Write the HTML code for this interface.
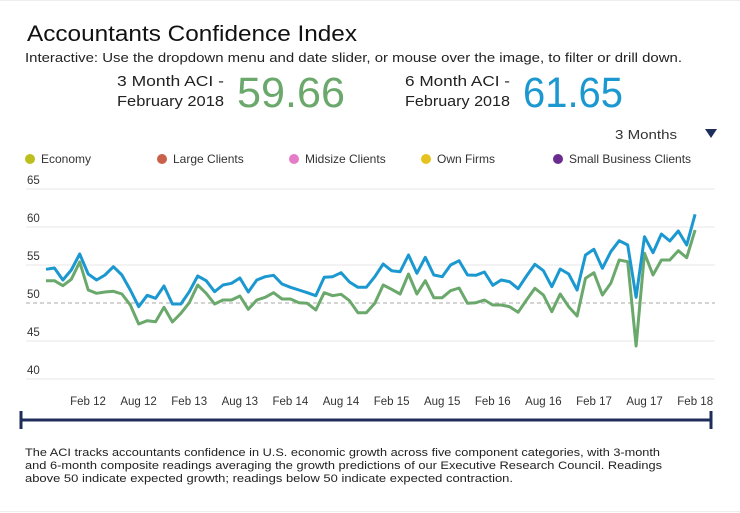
<!DOCTYPE html>
<html><head><meta charset="utf-8"><style>
html,body{margin:0;padding:0;background:#fff;}
svg{display:block;font-family:"Liberation Sans",sans-serif;}
</style></head><body>
<svg id="s" width="740" height="513" viewBox="0 0 740 513" xmlns="http://www.w3.org/2000/svg">
<rect width="740" height="513" fill="#fff"/>
<line x1="0" y1="0.5" x2="740" y2="0.5" stroke="#eee"/>
<text x="27" y="41" font-size="22" fill="#111" textLength="330" lengthAdjust="spacingAndGlyphs">Accountants Confidence Index</text>
<text x="25" y="62" font-size="12.5" fill="#222" textLength="657" lengthAdjust="spacingAndGlyphs">Interactive: Use the dropdown menu and date slider, or mouse over the image, to filter or drill down.</text>
<text x="117" y="86" font-size="15" fill="#222" textLength="107" lengthAdjust="spacingAndGlyphs">3 Month ACI -</text>
<text x="117" y="106" font-size="15" fill="#222" textLength="107" lengthAdjust="spacingAndGlyphs">February 2018</text>
<text x="237" y="107" font-size="43" fill="#6aa86b" textLength="108" lengthAdjust="spacingAndGlyphs">59.66</text>
<text x="405" y="86" font-size="15" fill="#222" textLength="105" lengthAdjust="spacingAndGlyphs">6 Month ACI -</text>
<text x="405" y="106" font-size="15" fill="#222" textLength="105" lengthAdjust="spacingAndGlyphs">February 2018</text>
<text x="523" y="107" font-size="43" fill="#1b98d0" textLength="100" lengthAdjust="spacingAndGlyphs">61.65</text>
<text x="615" y="139" font-size="13" fill="#333" textLength="62" lengthAdjust="spacingAndGlyphs">3 Months</text>
<polygon points="705,129 717,129 711,138" fill="#1f2d5a"/>
<g font-size="12" fill="#333">
<circle cx="30" cy="159" r="5" fill="#bcbf1d"/><text x="41" y="163">Economy</text>
<circle cx="162" cy="159" r="5" fill="#c9604a"/><text x="173" y="163">Large Clients</text>
<circle cx="294" cy="159" r="5" fill="#e57cc8"/><text x="305" y="163">Midsize Clients</text>
<circle cx="426" cy="159" r="5" fill="#e6c21c"/><text x="437" y="163">Own Firms</text>
<circle cx="558" cy="159" r="5" fill="#6a2d8f"/><text x="569" y="163">Small Business Clients</text>
</g>
<g stroke="#ececec" stroke-width="1.2">
<line x1="26" y1="189" x2="715" y2="189"/><line x1="26" y1="227" x2="715" y2="227"/>
<line x1="26" y1="265" x2="715" y2="265"/><line x1="26" y1="341" x2="715" y2="341"/>
<line x1="26" y1="379" x2="715" y2="379"/>
</g>
<line x1="26" y1="303" x2="715" y2="303" stroke="#bbb" stroke-dasharray="4,3" stroke-width="1.2"/>
<g font-size="11.5" fill="#333">
<text x="27" y="184">65</text><text x="27" y="222">60</text><text x="27" y="260">55</text>
<text x="27" y="298">50</text><text x="27" y="336">45</text><text x="27" y="374">40</text>
</g>
<g font-size="11.5" fill="#333" text-anchor="middle" id="xl"></g>
<polyline id="g" fill="none" stroke="#6aa86b" stroke-width="3" stroke-linejoin="round"/>
<polyline id="b" fill="none" stroke="#1b98d0" stroke-width="3" stroke-linejoin="round"/>
<line x1="21" y1="420" x2="711" y2="420" stroke="#1f2d5a" stroke-width="3"/>
<line x1="21" y1="411" x2="21" y2="429" stroke="#1f2d5a" stroke-width="3"/>
<line x1="711" y1="411" x2="711" y2="429" stroke="#1f2d5a" stroke-width="3"/>
<g font-size="11.3" fill="#222">
<text x="25" y="456" textLength="635" lengthAdjust="spacingAndGlyphs">The ACI tracks accountants confidence in U.S. economic growth across five component categories, with 3-month</text>
<text x="25" y="469" textLength="637" lengthAdjust="spacingAndGlyphs">and 6-month composite readings averaging the growth predictions of our Executive Research Council. Readings</text>
<text x="25" y="482" textLength="488" lengthAdjust="spacingAndGlyphs">above 50 indicate expected growth; readings below 50 indicate expected contraction.</text>
</g>
<line x1="0" y1="511.5" x2="740" y2="511.5" stroke="#eee"/>
</svg>
<script>
var B=[298,294,330,300,252,312,330,315,290,315,360,410,376,385,348,402,402,365,318,332,365,345,340,324,366,330,320,316,342,352,360,368,377,322,320,308,336,352,352,
320,282,302,305,255,310,262,315,320,285,272,315,316,306,346,330,335,356,318,283,302,350,297,312,360,255,238,295,245,212,225,382,200,248,192,213,183,225,133];
var G=[332,332,347,328,276,360,370,366,364,372,405,462,452,455,412,456,430,398,345,370,402,390,390,378,418,390,382,368,387,387,398,400,420,368,377,373,392,428,428,
400,345,358,372,312,372,332,383,383,362,354,400,398,390,405,405,410,427,390,355,375,425,372,410,438,325,308,375,340,270,275,528,250,315,270,270,242,263,180];
function pts(a){return a.map(function(v,i){return (46+8.43*i).toFixed(1)+","+(170+v/3).toFixed(1);}).join(" ");}
document.getElementById("b").setAttribute("points",pts(B));
document.getElementById("g").setAttribute("points",pts(G));
var L=["Feb 12","Aug 12","Feb 13","Aug 13","Feb 14","Aug 14","Feb 15","Aug 15","Feb 16","Aug 16","Feb 17","Aug 17","Feb 18"];
var xl=document.getElementById("xl"),h="";
L.forEach(function(t,i){h+='<text x="'+(88+50.6*i).toFixed(1)+'" y="405">'+t+'</text>';});
xl.innerHTML=h;
</script>
</body></html>
